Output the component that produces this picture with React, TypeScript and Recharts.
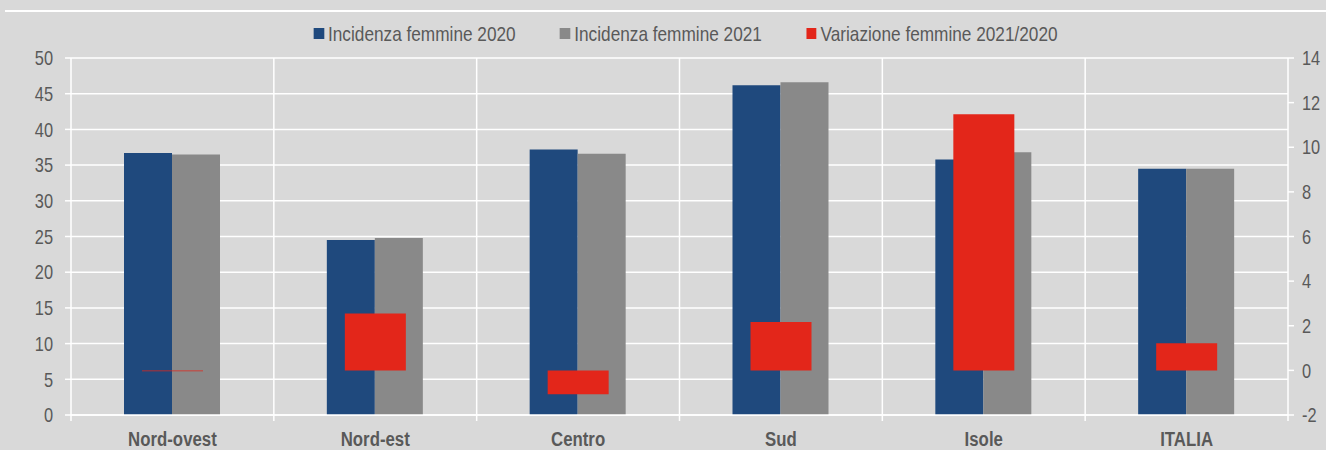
import React from "react";
import {
  ComposedChart,
  Bar,
  XAxis,
  YAxis,
  CartesianGrid,
  Legend,
} from "recharts";

const categories = ["Nord-ovest", "Nord-est", "Centro", "Sud", "Isole", "ITALIA"];
const incidenza2020 = [36.7, 24.5, 37.2, 46.2, 35.8, 34.5];
const incidenza2021 = [36.5, 24.8, 36.6, 46.6, 36.8, 34.5];
const variazione = [-0.04, 2.55, -1.07, 2.17, 11.48, 1.22];
const leftTicks = [0, 5, 10, 15, 20, 25, 30, 35, 40, 45, 50];
const rightTicks = [-2, 0, 2, 4, 6, 8, 10, 12, 14];

const seriesNames = {
  f2020: "Incidenza femmine 2020",
  f2021: "Incidenza femmine 2021",
  var: "Variazione femmine 2021/2020",
};

const data = categories.map((name, i) => ({
  name,
  f2020: incidenza2020[i],
  f2021: incidenza2021[i],
  var: variazione[i],
}));

const FONT = '"Liberation Sans", Arial, sans-serif';
const NARROW = 0.82;
const TEXT = "#595959";
const BLUE = "#1F497D";
const GRAY = "#898989";
const RED = "#E3261A";

function CategoryTick(props: any) {
  const { x, y, payload, index, visibleTicksCount, width } = props;
  const band = width / visibleTicksCount;
  const axisY = y - 6;
  const left = x - band / 2;
  const right = x + band / 2;
  return (
    <g>
      <line x1={left} x2={left} y1={axisY} y2={axisY + 6} stroke="#fff" strokeWidth={1.5} />
      {index === visibleTicksCount - 1 && (
        <line x1={right} x2={right} y1={axisY} y2={axisY + 6} stroke="#fff" strokeWidth={1.5} />
      )}
      <text
        transform={`translate(${x},${axisY + 31}) scale(${NARROW},1)`}
        x={0}
        y={0}
        textAnchor="middle"
        fill={TEXT}
        fontFamily={FONT}
        fontWeight="bold"
        fontSize={20.5}
      >
        {payload.value}
      </text>
    </g>
  );
}

function ValueTick(props: any) {
  const { x, y, payload, anchor } = props;
  return (
    <text
      transform={`translate(${x},${y}) scale(${NARROW},1)`}
      x={0}
      y={0}
      dy="0.36em"
      textAnchor={anchor}
      fill={TEXT}
      fontFamily={FONT}
      fontSize={20}
    >
      {payload.value}
    </text>
  );
}

function LegendContent(props: any) {
  const { payload } = props;
  return (
    <div
      style={{
        height: 40,
        display: "flex",
        justifyContent: "center",
        alignItems: "center",
        paddingLeft: 45,
        paddingBottom: 9,
        boxSizing: "border-box",
        fontFamily: FONT,
        fontSize: 21,
        color: TEXT,
      }}
    >
      <div
        style={{
          display: "flex",
          alignItems: "center",
          gap: 54,
          transform: `scaleX(${NARROW})`,
          transformOrigin: "center",
        }}
      >
        {payload.map((p: any) => (
          <div key={p.value} style={{ display: "flex", alignItems: "center" }}>
            <span
              style={{
                display: "inline-block",
                width: 12.5,
                height: 11,
                background: p.color,
                marginRight: 5,
              }}
            />
            <span style={{ lineHeight: "22px", whiteSpace: "nowrap" }}>{p.value}</span>
          </div>
        ))}
      </div>
    </div>
  );
}

export default function App() {
  return (
    <div
      style={{
        position: "absolute",
        left: 0,
        top: 0,
        width: 1326,
        height: 450,
        background: "#D9D9D9",
        overflow: "hidden",
      }}
    >
      <div
        style={{
          position: "absolute",
          left: 5,
          right: 0,
          top: 10,
          height: 2,
          background: "#fff",
        }}
      />
      <ComposedChart
        width={1326}
        height={450}
        data={data}
        margin={{ top: 18, right: 0, bottom: 0, left: 0 }}
        barGap={0}
      >
        <CartesianGrid
          xAxisId="main"
          yAxisId="left"
          stroke="#fff"
          strokeWidth={1.5}
          verticalCoordinatesGenerator={({ offset }: any) =>
            categories.slice(1).map((_, i) => offset.left + (offset.width * (i + 1)) / categories.length)
          }
        />
        <XAxis
          xAxisId="main"
          dataKey="name"
          interval={0}
          height={35}
          tickSize={6}
          tickMargin={0}
          tickLine={false}
          axisLine={{ stroke: "#fff", strokeWidth: 1.5 }}
          tick={<CategoryTick />}
        />
        <XAxis xAxisId="red" dataKey="name" hide />
        <YAxis
          yAxisId="left"
          orientation="left"
          width={71}
          domain={[0, 50]}
          ticks={leftTicks}
          interval={0}
          tickSize={6}
          tickMargin={12}
          axisLine={{ stroke: "#fff", strokeWidth: 1.5 }}
          tickLine={{ stroke: "#fff", strokeWidth: 1.5 }}
          tick={<ValueTick anchor="end" />}
        />
        <YAxis
          yAxisId="right"
          orientation="right"
          width={38}
          domain={[-2, 14]}
          ticks={rightTicks}
          interval={0}
          tickSize={6}
          tickMargin={8}
          axisLine={{ stroke: "#fff", strokeWidth: 1.5 }}
          tickLine={{ stroke: "#fff", strokeWidth: 1.5 }}
          tick={<ValueTick anchor="start" />}
        />
        <Legend
          verticalAlign="top"
          align="center"
          content={<LegendContent />}
          wrapperStyle={{ left: 0, width: 1326 }}
        />
        <Bar
          xAxisId="main"
          yAxisId="left"
          dataKey="f2020"
          name={seriesNames.f2020}
          fill={BLUE}
          barSize={48}
          isAnimationActive={false}
        />
        <Bar
          xAxisId="main"
          yAxisId="left"
          dataKey="f2021"
          name={seriesNames.f2021}
          fill={GRAY}
          barSize={48}
          isAnimationActive={false}
        />
        <Bar
          xAxisId="red"
          yAxisId="right"
          dataKey="var"
          name={seriesNames.var}
          fill={RED}
          barSize={61}
          isAnimationActive={false}
        />
      </ComposedChart>
    </div>
  );
}
